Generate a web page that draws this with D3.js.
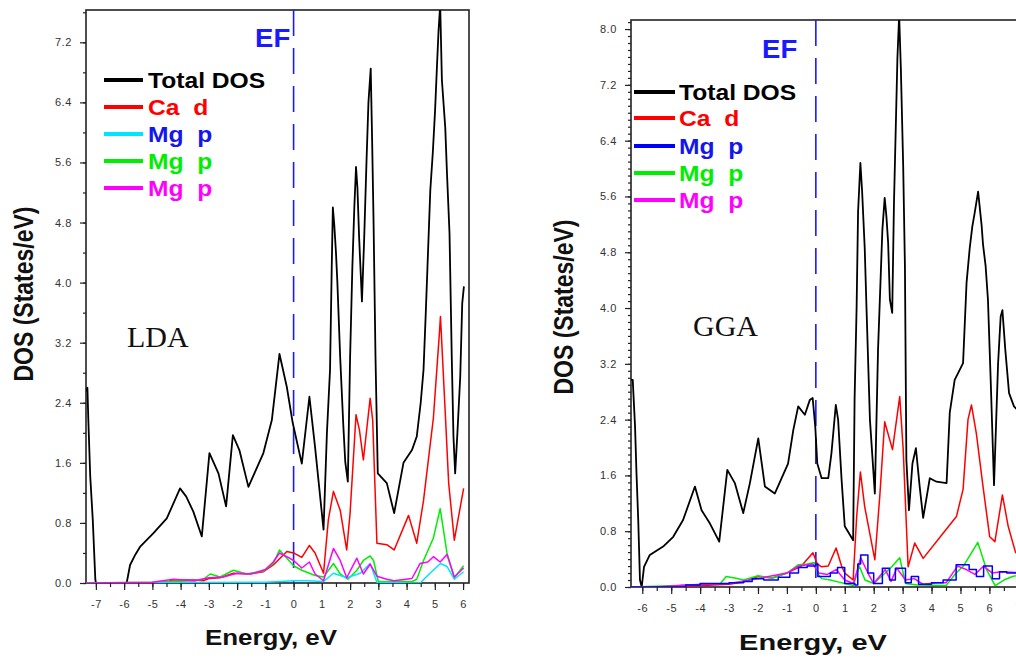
<!DOCTYPE html>
<html>
<head>
<meta charset="utf-8">
<script src="https://cdn.jsdelivr.net/npm/d3@7"></script>
<style>
body { margin: 0; background: #fff; }
text { font-family: "Liberation Sans", Arial, sans-serif; }
</style>
</head>
<body>
<svg id="fig" width="1016" height="658"></svg>
<script>
// ---- data: [energy eV, DOS states/eV] ----
var ldaTotal = [[-7.35,2.55],[-7.3,2.6],[-7.27,2.2],[-7.2,1.42],[-7.11,0.84],[-7.02,0.05],[-7.0,0],[-5.91,0],[-5.79,0.24],[-5.6,0.38],[-5.44,0.48],[-4.97,0.66],[-4.49,0.86],[-4.02,1.26],[-3.8,1.15],[-3.55,0.95],[-3.25,0.62],[-2.98,1.73],[-2.66,1.46],[-2.39,1.02],[-2.15,1.97],[-1.92,1.77],[-1.6,1.28],[-1.07,1.73],[-0.77,2.17],[-0.5,3.05],[-0.24,2.61],[-0.03,2.13],[0.29,1.59],[0.56,2.48],[0.76,1.81],[1.06,0.71],[1.18,2.0],[1.29,2.84],[1.35,4.2],[1.39,5.0],[1.44,4.77],[1.5,4.4],[1.55,4.0],[1.65,3.0],[1.76,2.1],[1.83,1.61],[1.92,1.35],[2.0,3.0],[2.08,4.2],[2.15,5.0],[2.21,5.54],[2.26,5.26],[2.32,4.6],[2.42,3.75],[2.5,4.6],[2.58,5.6],[2.65,6.4],[2.73,6.85],[2.78,5.9],[2.83,4.83],[2.9,3.0],[2.98,1.46],[3.3,1.33],[3.56,0.93],[3.89,1.6],[4.19,1.77],[4.36,1.95],[4.5,2.4],[4.6,2.84],[4.68,3.6],[4.74,4.21],[4.84,5.23],[4.93,5.74],[5.01,6.3],[5.07,6.83],[5.13,7.34],[5.19,7.7],[5.25,6.7],[5.37,6.06],[5.43,5.46],[5.52,4.66],[5.6,3.0],[5.66,1.95],[5.72,1.46],[5.8,2.0],[5.9,2.75],[5.97,3.72],[6.03,3.95]];
var ldaCaD = [[-7.35,0],[-4.5,0],[-4.3,0.04],[-3.5,0.04],[-3.2,0.03],[-3.0,0.06],[-2.6,0.07],[-2.13,0.13],[-1.6,0.12],[-1.07,0.15],[-0.72,0.24],[-0.24,0.42],[0,0.4],[0.29,0.34],[0.56,0.5],[0.76,0.4],[1.06,0.13],[1.23,0.84],[1.41,1.22],[1.65,0.97],[1.88,0.44],[2.0,0.93],[2.21,2.24],[2.33,2.04],[2.47,1.64],[2.71,2.46],[2.8,2.17],[2.95,0.53],[3.3,0.51],[3.56,0.44],[4.07,0.9],[4.36,0.53],[4.6,1.1],[4.95,2.2],[5.17,3.37],[5.2,3.55],[5.37,2.26],[5.49,1.33],[5.69,0.57],[6.02,1.26]];
var ldaMgP1 = [[-7.35,0],[-1.0,0.01],[-0.5,0.02],[0,0.03],[0.5,0.03],[1.06,0.02],[1.41,0.13],[1.88,0.07],[2.36,0.13],[2.71,0.26],[2.95,0.01],[4.2,0.0],[4.48,0.0],[4.8,0.12],[5.2,0.26],[5.43,0.22],[5.69,0.05],[6.02,0.15]];
var ldaMgP2 = [[-7.35,0],[-5.0,0.01],[-3.5,0.03],[-3.2,0.05],[-2.95,0.12],[-2.6,0.08],[-2.13,0.17],[-1.66,0.12],[-1.07,0.16],[-0.72,0.26],[-0.5,0.44],[-0.24,0.33],[0,0.23],[0.29,0.17],[0.76,0.1],[1.06,0.08],[1.41,0.26],[1.65,0.12],[1.92,0.05],[2.24,0.17],[2.47,0.3],[2.71,0.36],[2.83,0.3],[3.0,0.02],[4.2,0.02],[4.36,0.05],[4.6,0.3],[4.95,0.6],[5.19,0.99],[5.43,0.4],[5.69,0.07],[6.02,0.23]];
var ldaMgP3 = [[-7.35,0],[-5.0,0.01],[-4.26,0.05],[-3.5,0.03],[-3.0,0.07],[-2.5,0.08],[-2.0,0.13],[-1.5,0.12],[-1.0,0.18],[-0.72,0.28],[-0.5,0.4],[-0.24,0.35],[0,0.3],[0.29,0.2],[0.56,0.28],[0.76,0.12],[1.06,0.03],[1.41,0.46],[1.65,0.3],[1.88,0.07],[2.24,0.33],[2.47,0.12],[2.71,0.25],[2.95,0.09],[3.3,0.05],[3.56,0.03],[4.19,0.06],[4.48,0.26],[4.75,0.28],[4.95,0.35],[5.19,0.28],[5.43,0.38],[5.69,0.08],[6.02,0.2]];

var ggaTotal = [[-6.39,2.97],[-6.33,2.97],[-6.25,2.3],[-6.2,1.63],[-6.14,0.96],[-6.08,0.1],[-6.02,0],[-5.94,0.29],[-5.74,0.46],[-5.28,0.58],[-4.93,0.72],[-4.59,0.96],[-4.18,1.44],[-3.95,1.1],[-3.66,0.91],[-3.34,0.65],[-3.06,1.68],[-2.8,1.49],[-2.51,1.06],[-2.28,1.49],[-1.99,2.13],[-1.76,1.44],[-1.42,1.34],[-0.96,1.77],[-0.78,2.25],[-0.61,2.59],[-0.38,2.47],[-0.21,2.68],[-0.11,2.71],[-0.02,2.3],[0.05,1.77],[0.2,1.56],[0.43,1.56],[0.54,1.92],[0.69,2.61],[0.77,2.4],[0.89,1.54],[1.0,0.87],[1.29,0.67],[1.34,2.7],[1.41,4.02],[1.46,5.38],[1.54,6.08],[1.6,5.67],[1.69,4.86],[1.75,4.02],[1.87,2.4],[2.04,1.34],[2.15,3.4],[2.3,5.12],[2.38,5.58],[2.44,5.31],[2.5,4.93],[2.56,4.12],[2.64,3.93],[2.7,5.48],[2.76,6.53],[2.82,7.58],[2.88,8.2],[2.94,7.42],[3.02,6.03],[3.08,4.6],[3.13,1.82],[3.22,1.1],[3.34,1.77],[3.46,1.99],[3.59,1.44],[3.71,0.99],[3.94,1.56],[4.17,1.51],[4.52,1.49],[4.63,2.5],[4.8,2.97],[5.09,3.21],[5.21,4.36],[5.32,4.86],[5.41,5.17],[5.49,5.36],[5.61,5.67],[5.73,5.19],[5.78,4.91],[5.87,4.6],[5.95,4.12],[6.05,2.9],[6.16,1.46],[6.3,3.2],[6.39,3.88],[6.45,3.97],[6.55,3.4],[6.68,2.78],[6.85,2.59],[7.3,2.4]];
var ggaCaD = [[-6.39,0],[-5.5,0],[-4.5,0.01],[-3.0,0.04],[-2.5,0.07],[-2.0,0.15],[-1.5,0.13],[-1.0,0.2],[-0.5,0.3],[-0.1,0.49],[0.05,0.33],[0.2,0.29],[0.43,0.3],[0.7,0.56],[0.89,0.3],[1.0,0.2],[1.29,0.1],[1.41,1.0],[1.54,1.65],[1.69,1.15],[2.04,0.39],[2.21,1.3],[2.38,2.37],[2.65,1.97],[2.9,2.73],[3.02,1.97],[3.19,0.29],[3.42,0.63],[3.71,0.41],[4.4,0.77],[4.86,1.01],[5.09,1.4],[5.26,2.4],[5.38,2.61],[5.55,2.2],[5.78,1.44],[6.01,0.72],[6.19,0.65],[6.45,1.32],[6.65,0.87],[6.9,0.5],[7.3,0.35]];
var ggaMgP1 = [[-6.39,0],[-5.5,0],[-4.5,0.03],[-4.0,0.05],[-3.0,0.06],[-2.5,0.08],[-2.2,0.12],[-1.8,0.1],[-1.3,0.14],[-0.9,0.2],[-0.6,0.28],[-0.3,0.3],[0.0,0.33],[0.07,0.15],[0.5,0.2],[0.75,0.28],[1.0,0.05],[1.35,0.03],[1.45,0.33],[1.55,0.46],[1.8,0.2],[2.0,0.05],[2.3,0.27],[2.55,0.1],[2.75,0.27],[3.1,0.06],[3.3,0.15],[3.55,0.04],[4.0,0.06],[4.4,0.1],[4.85,0.32],[5.3,0.25],[5.55,0.15],[5.8,0.3],[6.1,0.12],[6.35,0.22],[6.6,0.2],[7.3,0.2]];
var ggaMgP2 = [[-6.39,0],[-4.7,0.02],[-3.3,0.05],[-3.1,0.15],[-2.8,0.13],[-2.5,0.1],[-2.0,0.16],[-1.5,0.13],[-1.0,0.2],[-0.6,0.32],[-0.3,0.33],[-0.05,0.35],[0.05,0.2],[0.2,0.12],[0.5,0.1],[0.8,0.07],[1.0,0.05],[1.3,0.02],[1.5,0.3],[1.7,0.1],[2.0,0.05],[2.4,0.2],[2.6,0.28],[2.9,0.42],[3.1,0.05],[3.5,0.03],[4.5,0.02],[4.85,0.2],[5.1,0.3],[5.6,0.64],[5.9,0.25],[6.2,0.02],[6.5,0.1],[6.8,0.15],[7.3,0.2]];
var ggaMgP3 = [[-6.39,0],[-5.5,0],[-4.5,0.03],[-3.0,0.05],[-2.0,0.12],[-1.0,0.2],[-0.6,0.3],[-0.1,0.33],[0.1,0.2],[0.4,0.18],[0.7,0.25],[1.0,0.1],[1.3,0.05],[1.55,0.42],[1.8,0.2],[2.0,0.05],[2.4,0.25],[2.6,0.08],[2.8,0.27],[3.1,0.1],[3.4,0.12],[3.7,0.04],[4.2,0.06],[4.5,0.06],[4.9,0.3],[5.2,0.25],[5.5,0.18],[5.8,0.3],[6.1,0.2],[6.4,0.22],[7.3,0.2]];

var ldaXTicks = [-7,-6,-5,-4,-3,-2,-1,0,1,2,3,4,5,6];
var ggaXTicks = [-6,-5,-4,-3,-2,-1,0,1,2,3,4,5,6,7];
var ldaYTicks = [0,0.8,1.6,2.4,3.2,4.0,4.8,5.6,6.4,7.2];
var ggaYTicks = [0,0.8,1.6,2.4,3.2,4.0,4.8,5.6,6.4,7.2,8.0];
var legendLabels = ["Total DOS", "Ca  d", "Mg  p", "Mg  p", "Mg  p"];
var ldaColors = ["#000", "#ff0000", "#00e5ff", "#00ee00", "#ff00ff"];
var ggaColors = ["#000", "#ff0000", "#0000ff", "#00ee00", "#ff00ff"];
var legendTextColors = ["#000", "#ff0000", "#1515ee", "#00ee00", "#ff00ff"];

var svg = d3.select("#fig");

function panel(p) {
  var g = svg.append("g");
  var x = d3.scaleLinear().domain(p.xDom).range([p.left, p.right]);
  var y = d3.scaleLinear().domain(p.yDom).range([p.bottom, p.top]);

  g.append("clipPath").attr("id", p.id + "clip")
    .append("rect").attr("x", p.left).attr("y", p.top)
    .attr("width", p.right - p.left).attr("height", p.bottom - p.top);

  // axes
  var yMinor = d3.range(0, p.yDom[1], p.yMinorStep);
  var xMinor = d3.range(Math.ceil(p.xDom[0] * 2) / 2, p.xDom[1], 0.5);

  g.append("g").attr("transform", "translate(" + p.left + ",0)")
    .call(d3.axisLeft(y).tickValues(yMinor).tickSize(3).tickFormat(""));
  g.append("g").attr("transform", "translate(0," + p.bottom + ")")
    .call(d3.axisBottom(x).tickValues(xMinor).tickSize(4).tickFormat(""));
  g.append("g").attr("transform", "translate(" + p.left + ",0)")
    .call(d3.axisLeft(y).tickValues(p.yTicks).tickSize(6).tickPadding(8)
      .tickFormat(function(d) { return d.toFixed(1); }));
  g.append("g").attr("transform", "translate(0," + p.bottom + ")")
    .call(d3.axisBottom(x).tickValues(p.xTicks).tickSize(7).tickPadding(10)
      .tickFormat(function(d) { return String(d); }));
  g.selectAll(".domain").remove();
  g.selectAll(".tick line").attr("stroke", "#222").attr("stroke-width", 1.2);
  g.selectAll(".tick text").attr("font-size", 11).attr("fill", "#333")
    .style("font-family", "Liberation Sans, Arial, sans-serif").style("letter-spacing", "0.6px");

  // frame
  g.append("rect").attr("x", p.left).attr("y", p.top)
    .attr("width", p.right - p.left).attr("height", p.bottom - p.top)
    .attr("fill", "none").attr("stroke", "#222").attr("stroke-width", 1.6);

  // EF
  g.append("line").attr("x1", x(0)).attr("x2", x(0))
    .attr("y1", p.top).attr("y2", p.bottom)
    .attr("stroke", "#1a1aff").attr("stroke-width", 1.6)
    .attr("stroke-dasharray", "26,12");

  var line = d3.line().x(function(d) { return x(d[0]); }).y(function(d) { return y(d[1]); });
  var step = d3.line().curve(d3.curveStepAfter)
    .x(function(d) { return x(d[0]); }).y(function(d) { return y(d[1]); });

  var curves = g.append("g").attr("clip-path", "url(#" + p.id + "clip)");
  p.order.forEach(function(i) {
    curves.append("path")
      .attr("d", (p.stepIdx === i ? step : line)(p.series[i]))
      .attr("fill", "none")
      .attr("stroke", p.colors[i])
      .attr("stroke-width", i === 0 ? 1.8 : 1.5)
      .attr("stroke-linejoin", "round");
  });

  // legend
  legendLabels.forEach(function(lab, i) {
    var ly = p.legY[i];
    g.append("line").attr("x1", p.legX[0]).attr("x2", p.legX[1])
      .attr("y1", ly).attr("y2", ly)
      .attr("stroke", p.colors[i]).attr("stroke-width", 4);
    g.append("text")
      .attr("transform", "translate(" + p.legX[2] + "," + (ly + 8) + ") scale(1.12,1)")
      .attr("font-size", 22).attr("font-weight", "bold")
      .attr("fill", legendTextColors[i]).style("white-space", "pre")
      .text(lab);
  });

  g.append("text")
    .attr("transform", "translate(" + p.ef[0] + "," + p.ef[1] + ") scale(1.06,1)")
    .attr("font-size", 26).attr("font-weight", "bold").attr("fill", "#1a1aff").text("EF");

  g.append("text").attr("x", p.name[0]).attr("y", p.name[1])
    .style("font-family", "'Liberation Serif', 'Times New Roman', serif")
    .attr("font-size", 30).attr("fill", "#111").text(p.name[2]);

  g.append("text")
    .attr("transform", "translate(" + p.ylab[0] + "," + p.ylab[1] + ") rotate(-90) scale(1,1.2)")
    .attr("text-anchor", "middle").attr("font-size", 23).attr("font-weight", "bold")
    .attr("fill", "#111").text("DOS (States/eV)");

  g.append("text")
    .attr("transform", "translate(" + p.xlab[0] + "," + p.xlab[1] + ") scale(" + p.xlab[2] + ",1)")
    .attr("text-anchor", "middle").attr("font-size", 22).attr("font-weight", "bold")
    .attr("fill", "#111").text("Energy, eV");
}

panel({
  id: "lda", left: 86, right: 469, top: 10, bottom: 583,
  xDom: [-7.35, 6.21], yDom: [0, 7.63], xTicks: ldaXTicks, yTicks: ldaYTicks, yMinorStep: 0.4,
  series: [ldaTotal, ldaCaD, ldaMgP1, ldaMgP2, ldaMgP3], colors: ldaColors,
  order: [0, 1, 3, 2, 4], stepIdx: -1,
  legX: [104, 143, 148], legY: [80, 107, 134, 161, 188],
  ef: [255, 47], name: [127, 347, "LDA"], ylab: [33, 294], xlab: [271, 645, 1.18]
});

panel({
  id: "gga", left: 631, right: 1027, top: 20, bottom: 587,
  xDom: [-6.39, 7.3], yDom: [0, 8.13], xTicks: ggaXTicks, yTicks: ggaYTicks, yMinorStep: 0.1,
  series: [ggaTotal, ggaCaD, ggaMgP1, ggaMgP2, ggaMgP3], colors: ggaColors,
  order: [0, 1, 3, 4, 2], stepIdx: 2,
  legX: [634, 675, 679], legY: [92, 118, 146, 173, 200],
  ef: [762, 58], name: [693, 336, "GGA"], ylab: [573, 307], xlab: [813, 650, 1.32]
});
</script>
</body>
</html>
